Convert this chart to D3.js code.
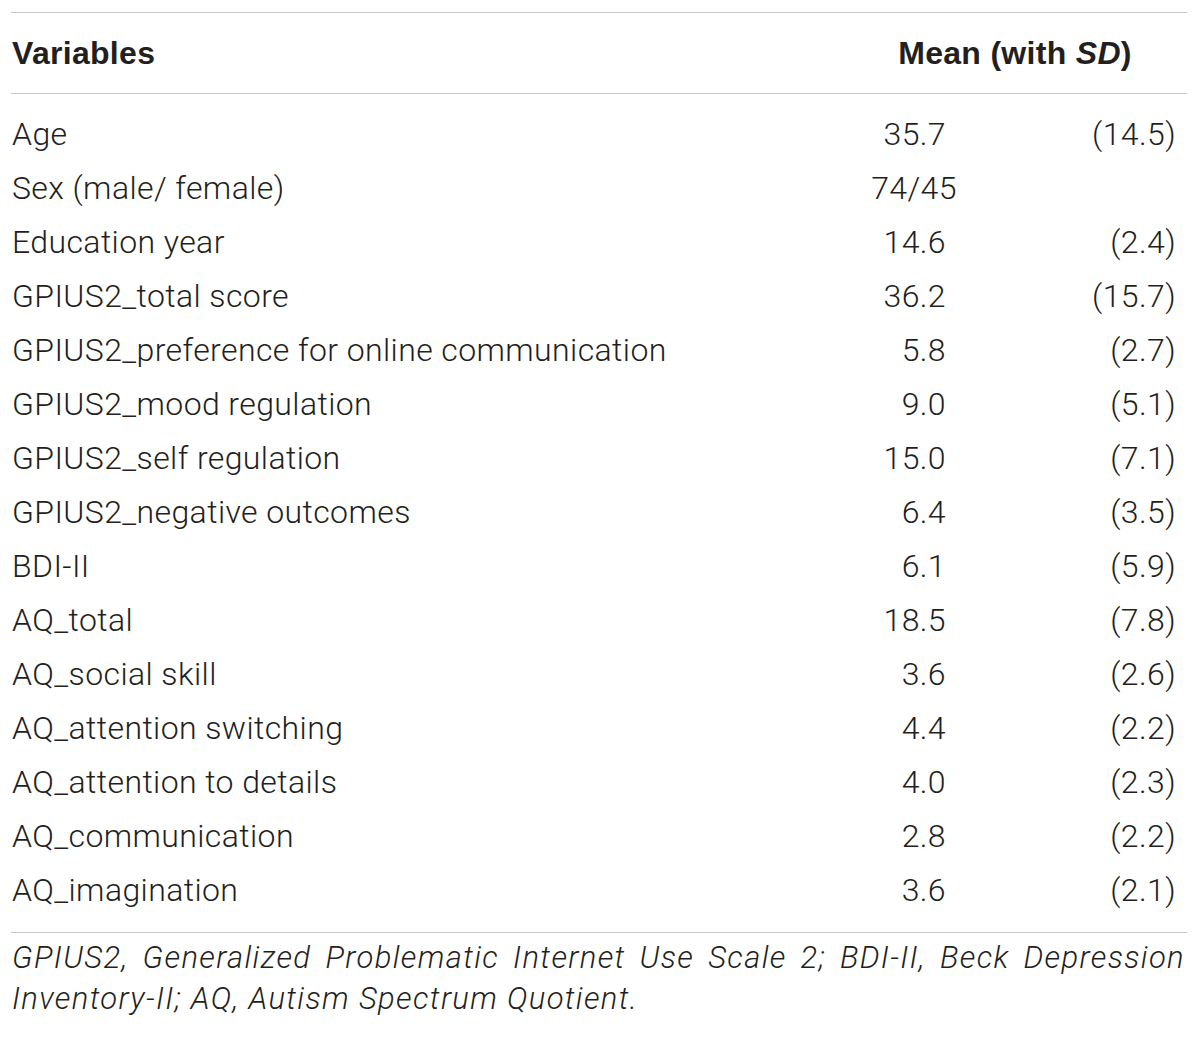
<!DOCTYPE html>
<html lang="en">
	<head>
		<meta charset="utf-8">
		<title>Descriptive statistics table</title>
		<script src="https://cdn.jsdelivr.net/npm/d3@7"></script>
		<style type="text/css">
			body { margin: 0; background: #fff; }
			svg text {
				font-family: Roboto, "Liberation Sans", Arial, sans-serif;
				font-weight: 300;
				letter-spacing: 0.4px;
				fill: #231f20;
			}
			svg text.head { font-family: "Liberation Sans", Arial, sans-serif; font-weight: bold; letter-spacing: 0.3px; }
			svg text.foot { letter-spacing: 1.35px; }
			.rule { stroke: #c8c8c8; stroke-width: 1.5; shape-rendering: crispEdges; }
		</style>
	</head>
	<body>
		<script type="text/javascript">
			var w = 1200; //width
			var h = 1037; //height

			// table content
			var variables = [
				"Age", "Sex (male/ female)", "Education year", "GPIUS2_total score",
				"GPIUS2_preference for online communication", "GPIUS2_mood regulation",
				"GPIUS2_self regulation", "GPIUS2_negative outcomes", "BDI-II",
				"AQ_total", "AQ_social skill", "AQ_attention switching",
				"AQ_attention to details", "AQ_communication", "AQ_imagination"
			];
			var means = ["35.7", "74/45", "14.6", "36.2", "5.8", "9.0", "15.0", "6.4", "6.1",
				"18.5", "3.6", "4.4", "4.0", "2.8", "3.6"];
			var sds = ["(14.5)", "", "(2.4)", "(15.7)", "(2.7)", "(5.1)", "(7.1)", "(3.5)", "(5.9)",
				"(7.8)", "(2.6)", "(2.2)", "(2.3)", "(2.2)", "(2.1)"];
			var headers = ["Variables", "Mean (with ", "SD", ")"];
			var footnoteLines = [
				"GPIUS2, Generalized Problematic Internet Use Scale 2; BDI-II, Beck Depression",
				"Inventory-II; AQ, Autism Spectrum Quotient."
			];

			var left = 12, right = 1187;
			var fontSize = 32;

			var svg = d3.select("body")
				.append("svg")
				.attr("width", w)
				.attr("height", h);

			var yScale = d3.scalePoint()
				.domain(d3.range(variables.length))
				.range([145, 145 + 54 * (variables.length - 1)]);

			// horizontal rules
			svg.selectAll("line.rule")
				.data([12.5, 93.5, 932.5])
				.enter()
				.append("line")
				.attr("class", "rule")
				.attr("x1", left - 1)
				.attr("x2", right)
				.attr("y1", function(d) { return d; })
				.attr("y2", function(d) { return d; });

			// header
			svg.append("text")
				.attr("class", "head")
				.attr("x", left)
				.attr("y", 64)
				.attr("font-size", 32)
				.text(headers[0]);

			var meanHead = svg.append("text")
				.attr("class", "head")
				.attr("x", 1015)
				.attr("y", 64)
				.attr("font-size", 32)
				.attr("text-anchor", "middle");
			meanHead.append("tspan").text(headers[1]);
			meanHead.append("tspan").attr("font-style", "italic").text(headers[2]);
			meanHead.append("tspan").text(headers[3]);

			// rows
			var rows = svg.selectAll("g.row")
				.data(variables)
				.enter()
				.append("g")
				.attr("class", "row")
				.attr("transform", function(d, i) { return "translate(0," + yScale(i) + ")"; });

			rows.append("text")
				.attr("x", left)
				.attr("font-size", fontSize)
				.text(function(d) { return d; });

			rows.append("text")
				.attr("x", function(d, i) { return means[i].indexOf("/") >= 0 ? 914 : 946; })
				.attr("text-anchor", function(d, i) { return means[i].indexOf("/") >= 0 ? "middle" : "end"; })
				.attr("font-size", fontSize)
				.text(function(d, i) { return means[i]; });

			rows.append("text")
				.attr("x", 1176)
				.attr("text-anchor", "end")
				.attr("font-size", fontSize)
				.text(function(d, i) { return sds[i]; });

			// footnote, first line justified to full width
			var foot = svg.selectAll("text.foot")
				.data(footnoteLines)
				.enter()
				.append("text")
				.attr("class", "foot")
				.attr("x", left)
				.attr("y", function(d, i) { return 968 + i * 41; })
				.attr("font-size", 31)
				.attr("font-style", "italic")
				.text(function(d) { return d; });

			foot.filter(function(d, i) { return i === 0; })
				.each(function(d) {
					var len = this.getComputedTextLength();
					var gaps = d.split(" ").length - 1;
					d3.select(this).attr("word-spacing", ((right - 2 - left) - len) / gaps);
				});
		</script>
	</body>
</html>
